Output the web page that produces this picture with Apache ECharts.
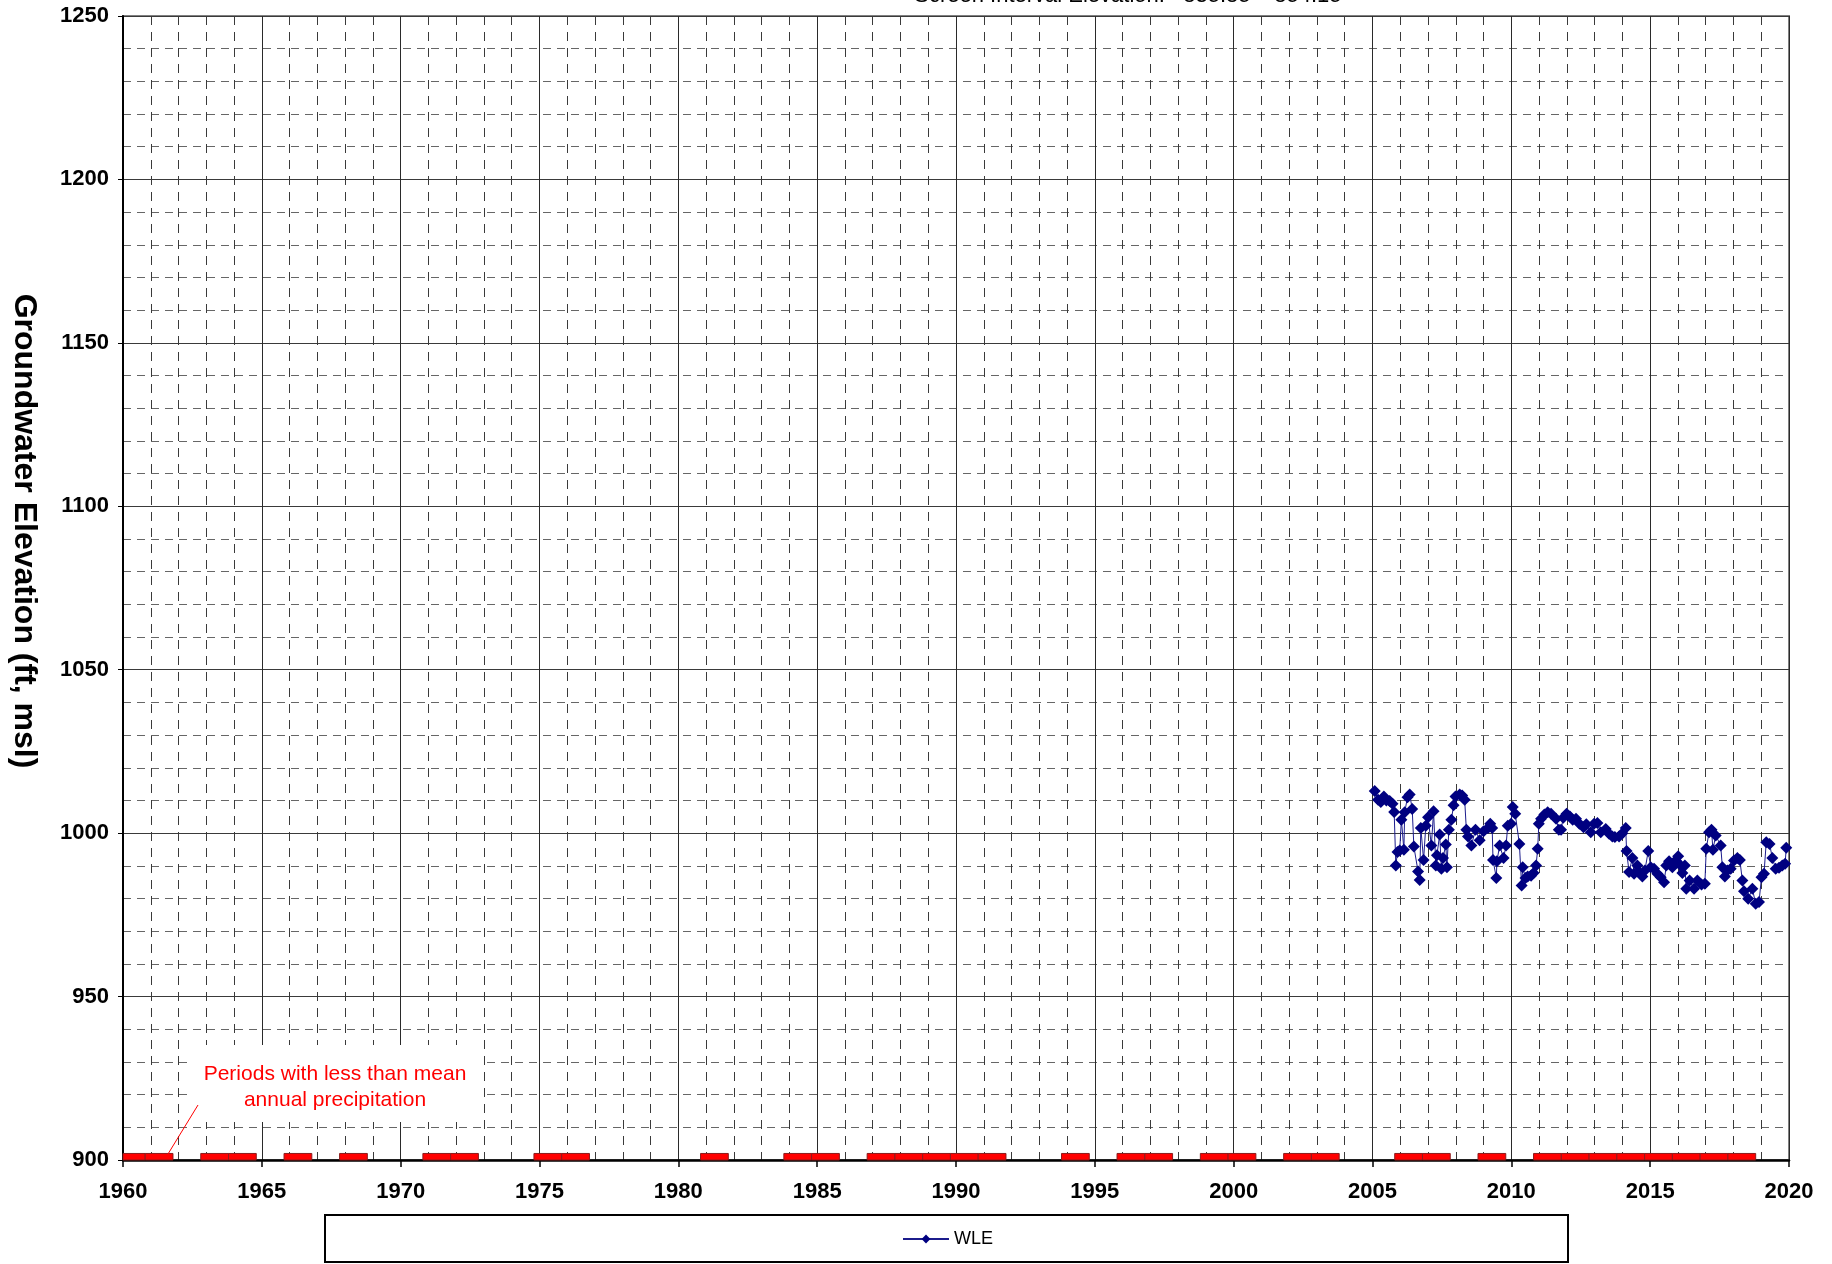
<!DOCTYPE html>
<html>
<head>
<meta charset="utf-8">
<title>Groundwater Elevation Hydrograph</title>
<script src="https://cdn.jsdelivr.net/npm/echarts@6/dist/echarts.min.js"></script>
<style>
  html, body { margin: 0; padding: 0; background: #ffffff; }
  #chart { width: 1832px; height: 1264px; }
</style>
</head>
<body>
<div id="chart"></div>
<script>
// Axis ticks
const yearTicks = [1960, 1965, 1970, 1975, 1980, 1985, 1990, 1995, 2000, 2005, 2010, 2015, 2020];
const elevationTicks = [900, 950, 1000, 1050, 1100, 1150, 1200, 1250];

// Water years with less than mean annual precipitation
const dryWaterYears = [
  1960, 1961, 1963, 1964, 1966, 1968, 1971, 1972, 1975, 1976, 1981, 1984, 1985,
  1987, 1988, 1989, 1990, 1991, 1994, 1996, 1997, 1999, 2000, 2002, 2003,
  2006, 2007, 2009, 2011, 2012, 2013, 2014, 2015, 2016, 2017, 2018
];

// Measured water level elevation (decimal year, ft msl)
const wleDates = [
  2005.08, 2005.20, 2005.30, 2005.41, 2005.50, 2005.62, 2005.72, 2005.78, 2005.84, 2005.90,
  2005.98, 2006.04, 2006.13, 2006.16, 2006.26, 2006.34, 2006.43, 2006.49, 2006.64, 2006.70,
  2006.74, 2006.84, 2006.92, 2007.00, 2007.12, 2007.20, 2007.28, 2007.32, 2007.42, 2007.48,
  2007.54, 2007.64, 2007.68, 2007.75, 2007.84, 2007.92, 2007.99, 2008.14, 2008.23, 2008.32,
  2008.38, 2008.44, 2008.56, 2008.71, 2008.86, 2009.00, 2009.16, 2009.24, 2009.31, 2009.34,
  2009.46, 2009.48, 2009.58, 2009.72, 2009.81, 2009.87, 2009.99, 2010.05, 2010.14, 2010.29,
  2010.37, 2010.41, 2010.51, 2010.59, 2010.71, 2010.80, 2010.89, 2010.95, 2010.99, 2011.07,
  2011.19, 2011.31, 2011.43, 2011.61, 2011.71, 2011.79, 2011.87, 2011.99, 2012.11, 2012.21,
  2012.33, 2012.45, 2012.60, 2012.70, 2012.86, 2012.98, 2013.10, 2013.22, 2013.40, 2013.52,
  2013.64, 2013.73, 2013.88, 2014.00, 2014.12, 2014.15, 2014.24, 2014.36, 2014.42, 2014.54,
  2014.60, 2014.72, 2014.81, 2014.93, 2015.02, 2015.14, 2015.26, 2015.38, 2015.50, 2015.58,
  2015.68, 2015.80, 2015.92, 2016.01, 2016.10, 2016.16, 2016.25, 2016.30, 2016.42, 2016.58,
  2016.70, 2016.85, 2016.97, 2017.02, 2017.12, 2017.21, 2017.26, 2017.36, 2017.54, 2017.60,
  2017.69, 2017.78, 2017.90, 2018.02, 2018.14, 2018.23, 2018.32, 2018.38, 2018.53, 2018.68,
  2018.80, 2018.92, 2019.01, 2019.10, 2019.18, 2019.30, 2019.40, 2019.52, 2019.64, 2019.76,
  2019.86, 2019.90
];
const wleLevels = [
  1012.9, 1010.2, 1009.5, 1011.2, 1010.0, 1009.8, 1009.0, 1006.5, 990.1, 994.2,
  994.7, 1004.1, 994.9, 1006.4, 1011.0, 1011.8, 1007.4, 995.9, 988.3, 985.7,
  1001.6, 991.8, 1002.3, 1004.9, 996.2, 1006.7, 990.1, 993.2, 999.6, 989.1,
  992.4, 996.5, 989.6, 1001.0, 1004.1, 1008.5, 1011.2, 1011.8, 1011.5, 1010.2,
  1001.0, 999.0, 996.2, 1001.0, 997.8, 1000.6, 1001.6, 1002.9, 1001.6, 991.8,
  986.3, 991.4, 996.2, 992.4, 996.2, 1002.3, 1002.9, 1008.0, 1005.9, 996.7,
  984.0, 989.6, 986.3, 986.7, 987.0, 987.8, 990.1, 995.2, 1002.9, 1004.4,
  1005.7, 1006.4, 1005.9, 1004.4, 1001.0, 1001.0, 1004.7, 1005.9, 1005.1, 1004.1,
  1004.4, 1002.9, 1001.8, 1002.7, 1000.3, 1002.9, 1003.1, 1000.3, 1001.3, 999.8,
  999.0, 998.8, 999.0, 1000.0, 1001.6, 994.5, 988.1, 992.4, 987.6, 990.1,
  988.1, 986.7, 988.6, 994.5, 989.6, 989.1, 987.6, 986.5, 985.0, 990.1,
  991.4, 989.6, 991.6, 992.9, 990.1, 987.8, 990.1, 983.0, 985.5, 983.0,
  985.5, 984.3, 984.5, 995.2, 1000.3, 1001.0, 994.9, 999.3, 996.2, 989.6,
  986.7, 988.6, 989.1, 991.6, 992.4, 991.8, 985.5, 982.2, 979.9, 983.0,
  978.4, 978.9, 986.5, 987.6, 997.2, 996.7, 992.4, 989.1, 989.4, 990.1,
  990.6, 995.5
];

const FONT = "'Liberation Sans', Arial, Helvetica, sans-serif";
const xMin = yearTicks[0], xMax = yearTicks[yearTicks.length - 1];
const yMin = elevationTicks[0], yMax = elevationTicks[elevationTicks.length - 1];
const dryBarTop = yMin + 2;   // thin strip along the bottom axis

const chart = echarts.init(document.getElementById('chart'), null, { renderer: 'canvas' });

chart.setOption({
  animation: false,
  backgroundColor: '#ffffff',
  grid: {
    left: 123, right: 43, top: 16, bottom: 104,
    show: true, borderColor: '#808080', borderWidth: 2
  },
  xAxis: {
    type: 'value',
    min: xMin, max: xMax,
    interval: yearTicks[1] - yearTicks[0],
    axisLine: { show: true, onZero: false, lineStyle: { color: '#000', width: 2.5 } },
    axisTick: { show: true, inside: false, length: 7, lineStyle: { color: '#000', width: 1.5 } },
    minorTick: { show: false, splitNumber: 5 },
    axisLabel: {
      margin: 21, color: '#000', fontFamily: FONT, fontWeight: 'bold', fontSize: 22,
      formatter: v => String(v)
    },
    splitLine: { show: true, lineStyle: { color: '#2a2a2a', width: 1 } },
    minorSplitLine: { show: true, lineStyle: { color: '#3a3a3a', width: 1, type: [9, 7] } }
  },
  yAxis: {
    type: 'value',
    min: yMin, max: yMax,
    interval: elevationTicks[1] - elevationTicks[0],
    axisLine: { show: true, onZero: false, lineStyle: { color: '#000', width: 2 } },
    axisTick: { show: true, inside: false, length: 5, lineStyle: { color: '#000', width: 1 } },
    minorTick: { show: false, splitNumber: 5 },
    axisLabel: {
      margin: 14, color: '#000', fontFamily: FONT, fontWeight: 'bold', fontSize: 22,
      formatter: v => String(v)
    },
    splitLine: { show: true, lineStyle: { color: '#3a3a3a', width: 1 } },
    minorSplitLine: { show: true, lineStyle: { color: '#666666', width: 1, type: [8, 6] } }
  },
  legend: {
    data: ['WLE'],
    left: 897, top: 1225,
    itemWidth: 46, itemHeight: 11,
    textStyle: { color: '#000', fontFamily: FONT, fontSize: 18 },
    selectedMode: false,
    z: 20
  },
  series: [
    {
      name: 'Dry water years',
      type: 'custom',
      silent: true,
      z: 3,
      data: dryWaterYears.map(y => [y]),
      encode: { x: 0 },
      renderItem: (params, api) => {
        const wy = api.value(0);
        // a water year runs from autumn of the prior year to autumn of the named year
        const start = Math.max(wy - 0.2, xMin);
        const end = Math.min(wy + 0.8, xMax);
        const a = api.coord([start, yMin]);
        const b = api.coord([end, dryBarTop]);
        return {
          type: 'rect',
          shape: { x: a[0], y: b[1], width: b[0] - a[0], height: a[1] - b[1] },
          style: { fill: '#ff0000', stroke: '#8a1c1c', lineWidth: 1 }
        };
      }
    },
    {
      name: 'WLE',
      type: 'line',
      data: wleDates.map((d, i) => [d, wleLevels[i]]),
      symbol: 'diamond',
      symbolSize: 12,
      showSymbol: true,
      lineStyle: { color: '#1c1c8c', width: 1 },
      itemStyle: { color: '#000080' },
      z: 5
    }
  ],
  graphic: [
    // partially visible heading at the very top
    {
      type: 'text', x: 1130, y: 7, z: 30,
      style: {
        text: "Screen Interval Elevation:   835.85' - 854.15'",
        font: `22px ${FONT}`, fill: '#000', align: 'center', verticalAlign: 'bottom'
      }
    },
    // vertical axis title
    {
      type: 'text', x: 24, y: 531, rotation: -Math.PI / 2, z: 30,
      style: {
        text: 'Groundwater Elevation (ft, msl)',
        font: `bold 32px ${FONT}`, fill: '#000', align: 'center', verticalAlign: 'middle'
      }
    },
    // note box for the dry-year strip
    {
      type: 'rect', z: 30,
      shape: { x: 190, y: 1045, width: 292, height: 77 },
      style: { fill: '#ffffff' }
    },
    {
      type: 'text', x: 335, y: 1061, z: 31,
      style: {
        text: 'Periods with less than mean\nannual precipitation',
        font: `21px ${FONT}`, fill: '#ff0000', align: 'center', verticalAlign: 'top', lineHeight: 26
      }
    },
    {
      type: 'line', z: 31,
      shape: { x1: 198, y1: 1105, x2: 168, y2: 1154 },
      style: { stroke: '#ff0000', lineWidth: 1 }
    },
    // legend frame
    {
      type: 'rect', z: 1,
      shape: { x: 325, y: 1215, width: 1243, height: 47 },
      style: { fill: '#ffffff', stroke: '#000', lineWidth: 2 }
    }
  ]
});
</script>
</body>
</html>
